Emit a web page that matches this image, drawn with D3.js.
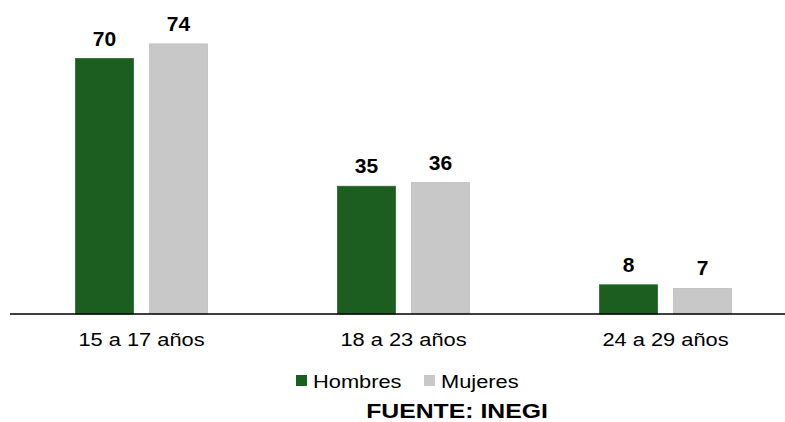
<!DOCTYPE html>
<html>
<head>
<meta charset="utf-8">
<script src="https://cdn.jsdelivr.net/npm/d3@7"></script>
<style>
  body { margin: 0; background: #fff; }
  text { font-family: "Liberation Sans", Arial, sans-serif; fill: #000; }
</style>
</head>
<body>
<div id="chart"></div>
<script>
// data
var categories = ["15 a 17 años", "18 a 23 años", "24 a 29 años"];
var seriesNames = ["Hombres", "Mujeres"];
var hombres = [70, 35, 8];
var mujeres = [74, 36, 7];
var colors = ["#1b5e20", "#c8c8c8"];

var svgWidth = 785;
var svgHeight = 422;
var stretch = 1.18; // text in the picture looks horizontally stretched

var svg = d3.select("#chart")
  .append("svg")
  .attr("width", svgWidth)
  .attr("height", svgHeight);

var x0 = d3.scaleBand()
  .domain(categories)
  .range([10.5, 796.5])
  .padding(0);

var x1 = d3.scaleBand()
  .domain(seriesNames)
  .range([0, x0.bandwidth()])
  .paddingInner(0.216)
  .paddingOuter(0.878);

var y = d3.scaleLinear()
  .domain([0, 80])
  .range([314, 22]);

var rows = categories.map(function(c, i) {
  return { cat: c, values: [hombres[i], mujeres[i]] };
});

var groups = svg.selectAll(".grp")
  .data(rows)
  .enter()
  .append("g")
  .attr("class", "grp")
  .attr("transform", d => `translate(${x0(d.cat)},0)`);

var bars = groups.selectAll("rect")
  .data(d => d.values.map((v, j) => ({ name: seriesNames[j], value: v, j: j })))
  .enter();

bars.append("rect")
  .attr("x", d => x1(d.name))
  .attr("y", d => y(d.value))
  .attr("width", x1.bandwidth())
  .attr("height", d => y(0) - y(d.value))
  .attr("fill", d => colors[d.j])
  .attr("stroke", d => d.j === 0 ? "#2a6a2e" : "#bdbdbd")
  .attr("stroke-width", 0.8);

// value labels
bars.append("text")
  .attr("x", d => x1(d.name) + x1.bandwidth() / 2)
  .attr("y", d => y(d.value) - 13)
  .attr("text-anchor", "middle")
  .attr("font-size", "21px")
  .attr("font-weight", "bold")
  .text(d => d.value);

// x axis
var xAxis = svg.append("g")
  .attr("transform", "translate(0,314)")
  .call(d3.axisBottom(x0).tickSize(0));

xAxis.select(".domain")
  .attr("d", "M10,0H785")
  .attr("stroke", "#000")
  .attr("stroke-width", 1.6);

xAxis.selectAll("text")
  .attr("y", 0)
  .attr("dy", 0)
  .attr("transform", `translate(0,32) scale(${stretch},1)`)
  .attr("font-size", "18.5px")
  .attr("font-family", "Liberation Sans, Arial, sans-serif")
  .attr("fill", "#000");

// legend
var legendX = [296, 424];
var legend = svg.append("g");
seriesNames.forEach(function(name, i) {
  legend.append("rect")
    .attr("x", legendX[i])
    .attr("y", 375)
    .attr("width", 11)
    .attr("height", 11)
    .attr("fill", colors[i]);
  legend.append("text")
    .attr("transform", `translate(${legendX[i] + 17},388) scale(${stretch},1)`)
    .attr("font-size", "18.5px")
    .text(name);
});

// source
svg.append("text")
  .attr("transform", `translate(457,418) scale(${stretch},1)`)
  .attr("text-anchor", "middle")
  .attr("font-size", "21px")
  .attr("font-weight", "bold")
  .text("FUENTE: INEGI");
</script>
</body>
</html>
